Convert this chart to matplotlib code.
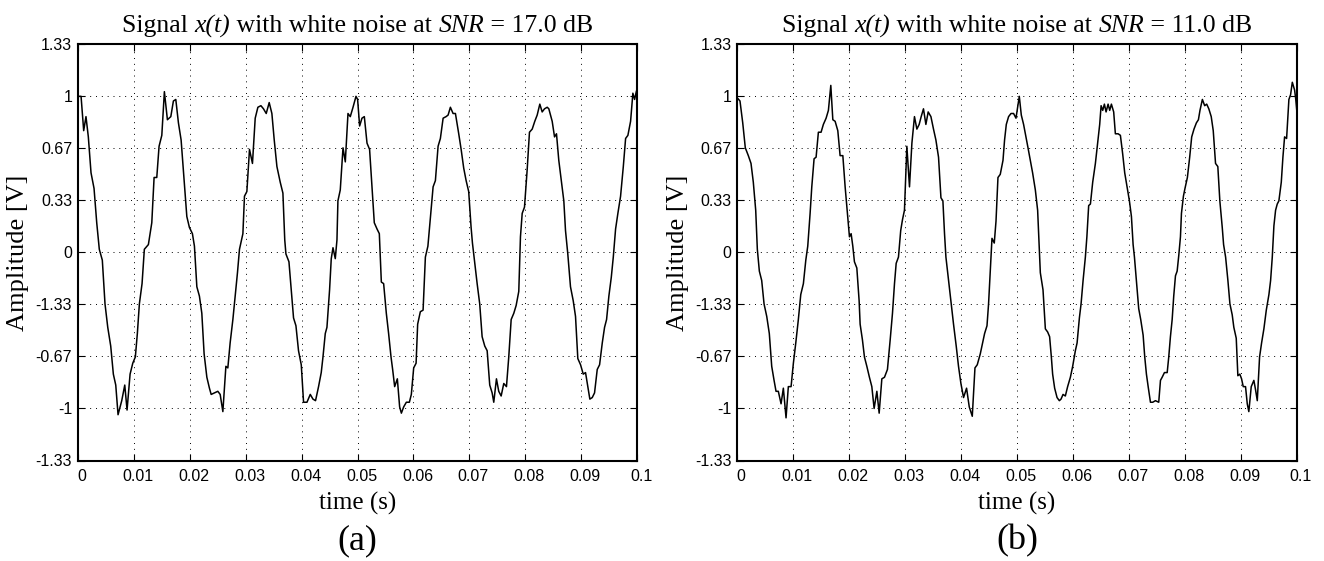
import matplotlib
matplotlib.use("Agg")
import matplotlib.pyplot as plt
import matplotlib.transforms as mtransforms
import numpy as np

plt.rcParams["font.family"] = ["Liberation Serif", "DejaVu Serif"]

# ---------------------------------------------------------------------------
# Data (time in ms, amplitude in V)
# ---------------------------------------------------------------------------
t_a_ms = [
    0.0, 0.6, 1.07, 1.48, 1.9, 2.38, 2.92, 3.4, 3.86, 4.4,
    4.88, 5.37, 5.9, 6.37, 6.8, 7.21, 7.87, 8.41, 8.82, 9.36,
    9.84, 10.3, 10.66, 11.02, 11.5, 11.91, 12.63, 13.24, 13.65, 14.13,
    14.54, 15.03, 15.49, 16.03, 16.64, 17.1, 17.53, 18.0, 18.48, 19.02,
    19.5, 19.96, 20.5, 20.86, 21.29, 21.75, 22.18, 22.59, 23.08, 23.54,
    23.85, 24.44, 25.04, 25.46, 25.94, 26.48, 26.83, 27.24, 27.73, 28.14,
    28.55, 28.91, 29.52, 29.8, 30.23, 30.7, 31.23, 31.72, 32.2, 32.74,
    33.2, 33.69, 34.22, 34.7, 35.12, 35.6, 36.19, 36.67, 37.0, 37.21,
    37.75, 38.16, 38.57, 39.0, 39.46, 39.95, 40.36, 40.97, 41.56, 42.04,
    42.5, 43.04, 43.52, 43.83, 44.24, 44.54, 45.01, 45.31, 45.62, 46.03,
    46.33, 46.5, 46.92, 47.41, 47.82, 48.3, 48.71, 49.2, 49.73, 50.02,
    50.38, 50.8, 51.22, 51.7, 52.16, 52.59, 53.0, 53.49, 53.9, 54.26,
    54.67, 55.15, 55.56, 55.99, 56.28, 56.64, 57.12, 57.53, 57.84, 58.25,
    58.73, 59.27, 59.62, 60.04, 60.47, 60.75, 61.23, 61.72, 62.13, 62.58,
    63.02, 63.51, 63.92, 64.4, 64.81, 65.3, 65.83, 66.19, 66.6, 67.08,
    67.5, 68.09, 68.52, 68.98, 69.41, 69.87, 70.3, 70.54, 70.89, 71.38,
    71.84, 72.27, 72.74, 73.17, 73.63, 74.06, 74.35, 74.83, 75.24, 75.67,
    76.14, 76.62, 77.03, 77.46, 77.93, 78.35, 78.82, 79.12, 79.43, 79.84,
    80.32, 80.73, 81.22, 81.68, 82.11, 82.58, 83.0, 83.42, 83.9, 84.19,
    84.79, 85.21, 85.56, 85.97, 86.46, 86.87, 87.17, 87.58, 88.06, 88.55,
    88.96, 89.37, 89.86, 90.34, 90.75, 91.52, 91.95, 92.36, 92.84, 93.26,
    93.74, 94.15, 94.51, 94.92, 95.35, 95.71, 96.12, 96.53, 97.01, 97.5,
    97.91, 98.32, 98.8, 99.21, 99.52, 99.82, 100.0,
]
x_a = [
    1.00, 1.00, 0.78, 0.87, 0.74, 0.51, 0.41, 0.19, 0.02, -0.05,
    -0.33, -0.48, -0.60, -0.78, -0.85, -1.04, -0.95, -0.85, -1.01, -0.78,
    -0.71, -0.67, -0.52, -0.33, -0.20, 0.02, 0.05, 0.19, 0.48, 0.48,
    0.68, 0.75, 1.03, 0.85, 0.87, 0.97, 0.98, 0.83, 0.72, 0.46,
    0.23, 0.16, 0.12, 0.04, -0.22, -0.28, -0.39, -0.65, -0.80, -0.87,
    -0.91, -0.90, -0.89, -0.91, -1.02, -0.73, -0.74, -0.58, -0.43, -0.28,
    -0.13, 0.02, 0.12, 0.36, 0.39, 0.66, 0.57, 0.86, 0.93, 0.94,
    0.92, 0.89, 0.96, 0.89, 0.72, 0.55, 0.45, 0.38, 0.08, -0.01,
    -0.06, -0.24, -0.42, -0.47, -0.63, -0.72, -0.96, -0.96, -0.91, -0.94,
    -0.95, -0.86, -0.77, -0.67, -0.52, -0.48, -0.24, -0.04, 0.03, -0.04,
    0.08, 0.33, 0.40, 0.67, 0.58, 0.89, 0.87, 0.93, 1.00, 0.98,
    0.81, 0.86, 0.87, 0.70, 0.66, 0.42, 0.19, 0.15, 0.12, -0.19,
    -0.20, -0.39, -0.52, -0.67, -0.75, -0.86, -0.81, -0.99, -1.03, -0.99,
    -0.96, -0.96, -0.91, -0.74, -0.71, -0.46, -0.38, -0.37, -0.03, 0.04,
    0.22, 0.42, 0.46, 0.68, 0.73, 0.86, 0.87, 0.88, 0.93, 0.89,
    0.89, 0.76, 0.66, 0.54, 0.46, 0.39, 0.16, 0.06, -0.05, -0.20,
    -0.33, -0.54, -0.60, -0.63, -0.85, -0.90, -0.96, -0.81, -0.89, -0.92,
    -0.84, -0.86, -0.67, -0.43, -0.39, -0.34, -0.25, 0.10, 0.25, 0.29,
    0.53, 0.77, 0.79, 0.84, 0.88, 0.95, 0.90, 0.92, 0.93, 0.92,
    0.84, 0.74, 0.76, 0.59, 0.45, 0.33, 0.14, -0.01, -0.22, -0.31,
    -0.41, -0.68, -0.72, -0.78, -0.77, -0.94, -0.93, -0.90, -0.75, -0.72,
    -0.58, -0.48, -0.43, -0.28, -0.16, -0.03, 0.15, 0.25, 0.36, 0.55,
    0.73, 0.75, 0.84, 1.02, 0.98, 1.03, 1.05,
]

t_b_ms = [
    0.0, 0.48, 0.97, 1.43, 1.97, 2.45, 2.86, 3.29, 3.58, 3.94,
    4.36, 4.78, 5.26, 5.72, 6.15, 6.57, 6.92, 7.33, 7.82, 8.23,
    8.71, 9.12, 9.61, 10.02, 10.45, 10.91, 11.34, 11.81, 12.24, 12.59,
    13.01, 13.31, 13.72, 14.08, 14.49, 14.97, 15.38, 15.87, 16.28, 16.71,
    17.07, 17.48, 17.96, 18.37, 18.86, 19.27, 19.68, 20.04, 20.34, 20.64,
    20.93, 21.36, 21.77, 21.95, 22.36, 22.72, 23.15, 23.61, 24.04, 24.45,
    24.94, 25.35, 25.83, 26.3, 26.83, 27.32, 27.73, 28.09, 28.39, 28.8,
    29.2, 29.52, 29.87, 30.3, 30.77, 31.2, 31.66, 32.09, 32.5, 32.86,
    33.27, 33.7, 34.11, 34.6, 35.06, 35.49, 35.96, 36.39, 36.74, 37.03,
    37.28, 37.75, 38.17, 38.64, 39.12, 39.53, 39.96, 40.43, 40.97, 41.45,
    41.99, 42.47, 42.88, 43.42, 43.83, 44.19, 44.62, 44.9, 45.21, 45.51,
    45.92, 46.23, 46.58, 46.99, 47.48, 47.76, 48.07, 48.48, 48.91, 49.37,
    49.8, 50.09, 50.39, 50.75, 51.16, 51.59, 51.95, 52.36, 52.77, 53.26,
    53.67, 53.97, 54.15, 54.63, 55.05, 55.46, 55.81, 56.12, 56.35, 56.71,
    57.14, 57.55, 57.85, 58.21, 58.62, 59.03, 59.52, 59.93, 60.41, 60.72,
    61.13, 61.43, 61.79, 62.2, 62.47, 62.79, 63.1, 63.51, 63.99, 64.4,
    64.76, 65.01, 65.3, 65.6, 65.9, 66.26, 66.55, 66.85, 67.26, 67.56,
    68.05, 68.46, 68.87, 69.23, 69.66, 70.07, 70.43, 70.73, 70.97, 71.32,
    71.73, 72.09, 72.52, 72.81, 73.11, 73.42, 73.83, 74.24, 74.72, 75.31,
    75.62, 75.92, 76.33, 76.82, 77.1, 77.4, 77.71, 77.99, 78.3, 78.6,
    78.89, 79.19, 79.37, 79.72, 80.0, 80.43, 80.84, 81.2, 81.61, 82.04,
    82.4, 82.68, 83.11, 83.52, 83.88, 84.26, 84.69, 85.05, 85.46, 85.87,
    86.23, 86.66, 86.9, 87.26, 87.67, 88.03, 88.44, 88.73, 89.16, 89.45,
    89.8, 90.11, 90.41, 90.82, 91.13, 91.41, 91.84, 92.31, 92.61, 92.92,
    93.33, 93.69, 94.1, 94.53, 95.0, 95.3, 95.6, 95.89, 96.19, 96.49,
    96.78, 97.21, 97.5, 97.8, 98.16, 98.57, 98.87, 99.18, 99.59, 99.8, 100.0,
]
x_b = [
    0.99, 0.97, 0.83, 0.67, 0.62, 0.57, 0.45, 0.27, 0.02, -0.12,
    -0.18, -0.33, -0.41, -0.52, -0.73, -0.82, -0.89, -0.89, -0.97, -0.87,
    -1.06, -0.86, -0.86, -0.71, -0.58, -0.43, -0.27, -0.20, -0.05, 0.04,
    0.25, 0.42, 0.60, 0.61, 0.77, 0.77, 0.82, 0.86, 0.91, 1.07,
    0.85, 0.84, 0.78, 0.62, 0.62, 0.42, 0.25, 0.10, 0.12, 0.04,
    -0.06, -0.10, -0.31, -0.46, -0.56, -0.67, -0.73, -0.80, -0.86, -1.00,
    -0.89, -1.03, -0.81, -0.80, -0.75, -0.56, -0.39, -0.20, -0.07, -0.03,
    0.14, 0.21, 0.27, 0.68, 0.42, 0.70, 0.87, 0.79, 0.82, 0.87,
    0.92, 0.82, 0.90, 0.87, 0.79, 0.72, 0.61, 0.35, 0.33, 0.12,
    -0.03, -0.18, -0.32, -0.46, -0.60, -0.73, -0.84, -0.93, -0.87, -0.99,
    -1.05, -0.74, -0.72, -0.65, -0.58, -0.52, -0.47, -0.33, -0.11, 0.09,
    0.06, 0.20, 0.48, 0.50, 0.59, 0.72, 0.82, 0.87, 0.89, 0.89,
    0.86, 0.93, 1.00, 0.88, 0.82, 0.74, 0.67, 0.59, 0.51, 0.40,
    0.27, 0.02, -0.13, -0.24, -0.49, -0.51, -0.54, -0.67, -0.78, -0.87,
    -0.93, -0.95, -0.94, -0.91, -0.92, -0.86, -0.80, -0.73, -0.63, -0.58,
    -0.42, -0.33, -0.18, -0.03, 0.10, 0.30, 0.31, 0.45, 0.57, 0.70,
    0.82, 0.94, 0.91, 0.95, 0.90, 0.95, 0.91, 0.95, 0.90, 0.76,
    0.76, 0.75, 0.63, 0.51, 0.42, 0.33, 0.23, 0.05, -0.03, -0.18,
    -0.36, -0.43, -0.53, -0.67, -0.78, -0.86, -0.96, -0.96, -0.95, -0.96,
    -0.82, -0.80, -0.77, -0.77, -0.67, -0.54, -0.43, -0.28, -0.15, -0.12,
    -0.02, 0.10, 0.25, 0.36, 0.41, 0.48, 0.61, 0.74, 0.79, 0.83,
    0.85, 0.91, 0.98, 0.94, 0.95, 0.92, 0.87, 0.78, 0.57, 0.55,
    0.33, 0.16, 0.05, -0.03, -0.18, -0.33, -0.40, -0.48, -0.55, -0.79,
    -0.78, -0.81, -0.86, -0.86, -0.97, -1.02, -0.86, -0.82, -0.88, -0.95,
    -0.67, -0.58, -0.49, -0.37, -0.27, -0.18, -0.03, 0.17, 0.27, 0.31,
    0.33, 0.45, 0.61, 0.74, 0.73, 0.98, 1.01, 1.09, 1.04, 0.98, 0.90,
]

snr_db = [17.0, 11.0]
panel_tags = ["(a)", "(b)"]

x_ticks = [0, 0.01, 0.02, 0.03, 0.04, 0.05, 0.06, 0.07, 0.08, 0.09, 0.1]
x_tick_labels = ["0", "0.01", "0.02", "0.03", "0.04", "0.05",
                 "0.06", "0.07", "0.08", "0.09", "0.1"]
y_ticks = [-4 / 3, -1, -2 / 3, -1 / 3, 0, 1 / 3, 2 / 3, 1, 4 / 3]
# labels exactly as printed in the original (the -0.33 tick reads "-1.33")
y_tick_labels = ["-1.33", "-1", "-0.67", "-1.33", "0", "0.33", "0.67", "1", "1.33"]


def rich_title(ax, segments, fontsize, pad_px):
    """Centered title made of upright / italic pieces (italic parens too)."""
    fig = ax.figure
    r = fig.canvas.get_renderer()

    def width(s, style):
        a = fig.text(0, 0, "|" + s + "|", fontsize=fontsize, style=style)
        b = fig.text(0, 0, "||", fontsize=fontsize, style=style)
        w = a.get_window_extent(r).width - b.get_window_extent(r).width
        a.remove()
        b.remove()
        return w

    widths = [width(s, st) for s, st in segments]
    x = -sum(widths) / 2
    for (s, st), w in zip(segments, widths):
        tr = ax.transAxes + mtransforms.ScaledTranslation(
            x / fig.dpi, pad_px / fig.dpi, fig.dpi_scale_trans)
        ax.text(0.5, 1.0, s, transform=tr, fontsize=fontsize, style=st,
                ha="left", va="baseline")
        x += w


# ---------------------------------------------------------------------------
# Figure
# ---------------------------------------------------------------------------
W, H = 1324, 561
fig = plt.figure(figsize=(W / 100, H / 100), dpi=100)

panels = [
    (np.array(t_a_ms) / 1000.0, np.array(x_a)),
    (np.array(t_b_ms) / 1000.0, np.array(x_b)),
]
ax_left_px = [77.7, 737.3]
ax_w_px, ax_top_px, ax_bot_px = 559.6, 44.3, 460.5

for i, (t, x) in enumerate(panels):
    ax = fig.add_axes([ax_left_px[i] / W, 1 - ax_bot_px / H,
                       ax_w_px / W, (ax_bot_px - ax_top_px) / H])
    ax.plot(t, x, color="black", linewidth=1.1)
    ax.set_xlim(0, 0.1)
    ax.set_ylim(-4 / 3, 4 / 3)
    ax.set_xticks(x_ticks)
    ax.set_xticklabels(x_tick_labels, family="Liberation Sans", fontsize=11.5)
    ax.set_yticks(y_ticks)
    ax.set_yticklabels(y_tick_labels, family="Liberation Sans", fontsize=11.5)
    ax.tick_params(direction="in", length=5, width=0.8, top=True, right=True,
                   color="black")
    ax.tick_params(axis="x", pad=6)
    ax.tick_params(axis="y", pad=4)
    offset = mtransforms.ScaledTranslation(4 / 100, 0, fig.dpi_scale_trans)
    for lbl in ax.get_xticklabels():
        lbl.set_transform(lbl.get_transform() + offset)
    ax.grid(True, color="black", linestyle=(0, (1, 5)), linewidth=0.7)
    for sp in ax.spines.values():
        sp.set_linewidth(1.5)

    rich_title(ax, [("Signal ", "normal"), ("x(t)", "italic"),
                    (" with white noise at ", "normal"), ("SNR", "italic"),
                    (f" = {snr_db[i]:.1f} dB", "normal")],
               fontsize=18.5, pad_px=12)
    ax.set_xlabel("time (s)", fontsize=18, va="center")
    ax.xaxis.set_label_coords(0.5, -(503 - ax_bot_px) / (ax_bot_px - ax_top_px))
    ax.set_ylabel("Amplitude [V]", fontsize=19, va="center")
    ax.yaxis.set_label_coords(-0.106, 0.5)

    fig.text((ax_left_px[i] + ax_w_px / 2) / W, 1 - 541 / H, panel_tags[i],
             fontsize=26, ha="center", va="center")

fig.savefig("out.png", dpi=100)
